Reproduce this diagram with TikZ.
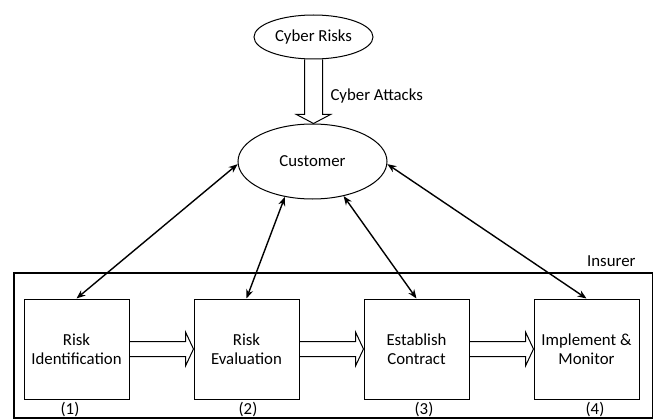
\documentclass[tikz,border=0pt]{standalone}
\usepackage{fontspec}
\setmainfont{Carlito}
\usetikzlibrary{positioning,shapes.geometric,arrows.meta,calc}

\newcommand\fatright[2]{%
  \draw[line width=1pt] let \p1=(#1.east), \p2=(#2.west) in
    (\x1,{\y1+7.5pt}) -- ({\x2-8pt},{\y1+7.5pt}) -- ({\x2-8pt},{\y1+17pt}) -- (\x2,\y1)
    -- ({\x2-8pt},{\y1-17pt}) -- ({\x2-8pt},{\y1-7.5pt}) -- (\x1,{\y1-7.5pt});}
\newcommand\fatdown[2]{%
  \draw[line width=1pt] let \p1=(#1.south), \p2=(#2.north) in
    ({\x1-9pt},\y1) -- ({\x1-9pt},{\y2+9pt}) -- ({\x1-17pt},{\y2+9pt}) -- (\x1,\y2)
    -- ({\x1+17pt},{\y2+9pt}) -- ({\x1+9pt},{\y2+9pt}) -- ({\x1+9pt},\y1);}

\begin{document}
\begin{tikzpicture}[x=1pt,y=-1pt,
    every node/.style={font=\fontsize{16.8}{19}\selectfont},
    stage/.style={draw,line width=1pt,rectangle,minimum width=105pt,minimum height=100pt,align=center,inner sep=0pt},
    blob/.style={draw,line width=1pt,ellipse,inner sep=0pt},
    link/.style={line width=1.4pt,{Stealth[length=9pt,width=7pt]}-{Stealth[length=9pt,width=7pt]}}]
    \useasboundingbox (0,0) rectangle (654,420);
    \draw[line width=1.8pt] (14,273) rectangle (652.5,418);
    \node[anchor=base east] (insurer) at (639,266) {Insurer};
    \node[blob,minimum width=119pt,minimum height=44pt] (risks) at (313.5,37) {Cyber Risks};
    \node[blob,minimum width=149pt,minimum height=75pt] (customer) at (312.5,161.5) {Customer};
    \node[stage] (ident) at (76.5,349) {Risk\\Identification};
    \node[stage,right=64pt of ident] (eval) {Risk\\Evaluation};
    \node[stage,right=64pt of eval] (contract) {Establish\\Contract};
    \node[stage,right=64pt of contract] (monitor) {Implement \&\\Monitor};
    \node[anchor=base] (n1) at (70,414) {(1)};
    \node[anchor=base] (n2) at (248,414) {(2)};
    \node[anchor=base] (n3) at (424,414) {(3)};
    \node[anchor=base] (n4) at (595,414) {(4)};
    \fatdown{risks}{customer}
    \node[anchor=base west] (attacks) at (327,100) {Cyber Attacks};
    \fatright{ident}{eval}
    \fatright{eval}{contract}
    \fatright{contract}{monitor}
    \draw[link] (customer.182) -- (ident.north);
    \draw[link] (customer.232) -- (eval.north);
    \draw[link] (customer.312) -- (contract.north);
    \draw[link] (customer.358) -- (monitor.north);
\end{tikzpicture}
\end{document}
